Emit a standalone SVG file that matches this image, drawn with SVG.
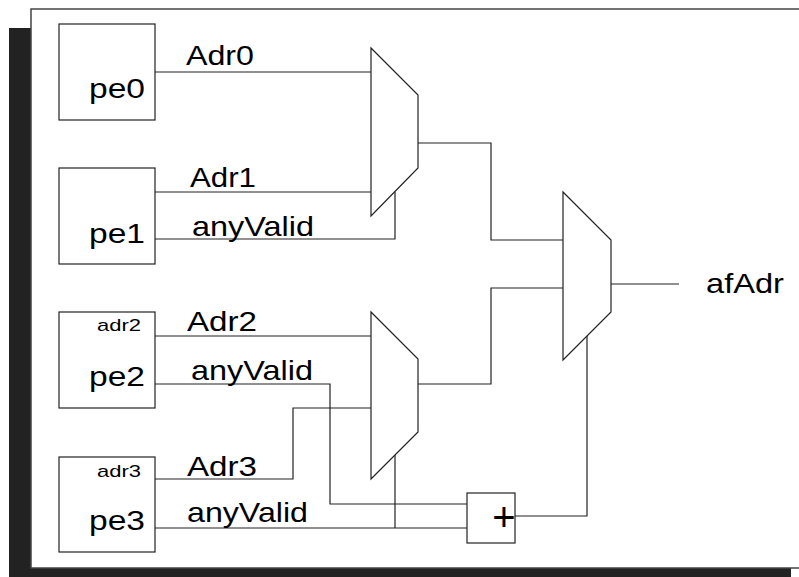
<svg xmlns="http://www.w3.org/2000/svg" width="799" height="577" viewBox="0 0 799 577">
<style>
.frame{fill:#fff;stroke:#444;stroke-width:1.5}
.box{fill:#fff;stroke:#222;stroke-width:1.2}
.mux{fill:#fff;stroke:#222;stroke-width:1.2}
.wire{fill:none;stroke:#222;stroke-width:1.2}
.lbl{font-family:"Liberation Sans",Arial,Helvetica,sans-serif;font-size:28px;fill:#000}
.sm{font-family:"Liberation Sans",Arial,Helvetica,sans-serif;font-size:17px;fill:#000}
</style>
<rect x="9" y="28" width="782" height="560" fill="#222"/>
<rect class="frame" x="31" y="9" width="780" height="559"/>

<g id="connectors">
  <polyline class="wire" points="155,72 371,72"/>
  <polyline class="wire" points="155,192 371,192"/>
  <polyline class="wire" points="155,239 395,239 395,192"/>
  <polyline class="wire" points="418,143 491,143 491,240 563,240"/>
  <polyline class="wire" points="155,336 371,336"/>
  <polyline class="wire" points="155,479 293,479 293,408 371,408"/>
  <polyline class="wire" points="155,384 330,384 330,504 467,504"/>
  <polyline class="wire" points="155,528 467,528"/>
  <polyline class="wire" points="395,455 395,528"/>
  <polyline class="wire" points="418,384 491,384 491,288 563,288"/>
  <polyline class="wire" points="515,516 587,516 587,336"/>
  <polyline class="wire" points="611,284 679,284"/>
</g>

<g id="pe0">
  <rect class="box" x="59" y="24" width="96" height="96"/>
  <text class="lbl" x="89" y="98" textLength="56" lengthAdjust="spacingAndGlyphs">pe0</text>
</g>
<g id="pe1">
  <rect class="box" x="59" y="168" width="96" height="96"/>
  <text class="lbl" x="89" y="243" textLength="56" lengthAdjust="spacingAndGlyphs">pe1</text>
</g>
<g id="pe2">
  <rect class="box" x="59" y="312" width="96" height="96"/>
  <text class="sm" x="97" y="331" textLength="44" lengthAdjust="spacingAndGlyphs">adr2</text>
  <text class="lbl" x="89" y="386" textLength="56" lengthAdjust="spacingAndGlyphs">pe2</text>
</g>
<g id="pe3">
  <rect class="box" x="59" y="457" width="96" height="95"/>
  <text class="sm" x="97" y="477" textLength="44" lengthAdjust="spacingAndGlyphs">adr3</text>
  <text class="lbl" x="89" y="530" textLength="56" lengthAdjust="spacingAndGlyphs">pe3</text>
</g>

<g id="mux1">
  <polygon class="mux" points="371,48 418,95 418,168 371,216"/>
</g>
<g id="mux2">
  <polygon class="mux" points="371,312 418,359 418,432 371,479"/>
</g>
<g id="mux3">
  <polygon class="mux" points="563,192 611,240 611,312 563,360"/>
</g>
<g id="adder">
  <rect class="box" x="467" y="493" width="48" height="50"/>
  <text class="lbl" x="504" y="531" text-anchor="middle" style="font-size:40px">+</text>
</g>

<g id="labels">
  <text class="lbl" x="186" y="65" textLength="68" lengthAdjust="spacingAndGlyphs">Adr0</text>
  <text class="lbl" x="190" y="187" textLength="66" lengthAdjust="spacingAndGlyphs">Adr1</text>
  <text class="lbl" x="192" y="236" textLength="122" lengthAdjust="spacingAndGlyphs">anyValid</text>
  <text class="lbl" x="187" y="331" textLength="70" lengthAdjust="spacingAndGlyphs">Adr2</text>
  <text class="lbl" x="191" y="380" textLength="122" lengthAdjust="spacingAndGlyphs">anyValid</text>
  <text class="lbl" x="187" y="476" textLength="70" lengthAdjust="spacingAndGlyphs">Adr3</text>
  <text class="lbl" x="187" y="522" textLength="121" lengthAdjust="spacingAndGlyphs">anyValid</text>
  <text class="lbl" x="706" y="293" textLength="78" lengthAdjust="spacingAndGlyphs">afAdr</text>
</g>
</svg>
